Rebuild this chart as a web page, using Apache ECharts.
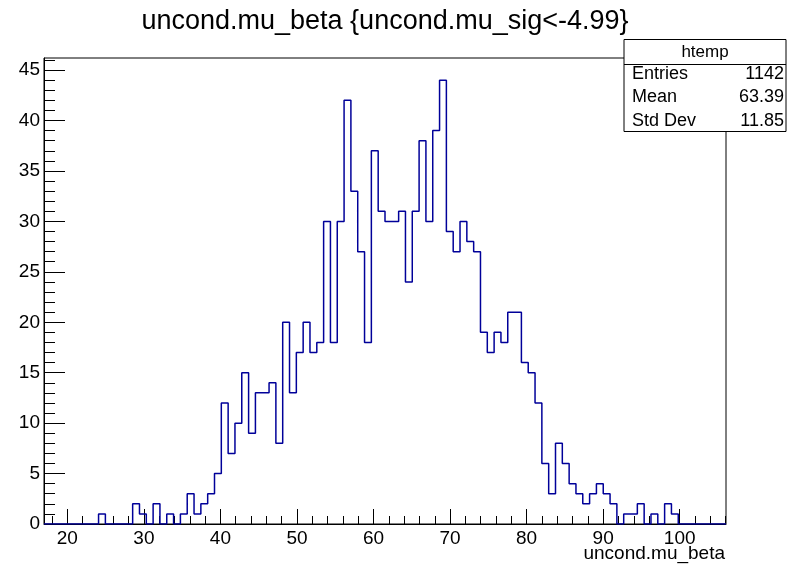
<!DOCTYPE html>
<html><head><meta charset="utf-8">
<script src="https://cdn.jsdelivr.net/npm/echarts@6/dist/echarts.min.js"></script>
<style>html,body{margin:0;padding:0;background:#fff}#c{width:787px;height:568px}</style>
</head><body><div id="c"></div>
<script>
// ---- data ----
const titleText = 'uncond.mu_beta {uncond.mu_sig<-4.99}';
const xTitle = 'uncond.mu_beta';
const xMin = 16.95;
const xMax = 106.05;
const nBins = 100;
const counts = [
  0,0,0,0,0,0,0,0,1,0,
  0,0,0,2,1,0,2,0,1,0,
  1,3,1,2,3,5,12,7,10,15,
  9,13,13,14,8,20,13,17,20,17,
  18,30,18,30,42,33,27,18,37,31,
  30,30,31,24,31,38,30,39,44,29,
  27,30,28,27,19,17,19,18,21,21,
  16,15,12,6,3,8,6,4,3,2,
  3,4,3,2,0,1,1,2,0,1,
  0,2,1,0,0,0,0,0,0,0
];
const yMax = 46.2;
const xMajorTicks = [20,30,40,50,60,70,80,90,100];
const xMinorTicks = [18,20,22,24,26,28,30,32,34,36,38,40,42,44,46,48,50,52,54,56,58,60,62,64,66,68,70,72,74,76,78,80,82,84,86,88,90,92,94,96,98,100,102,104,106];
const yMajorTicks = [0,5,10,15,20,25,30,35,40,45];
const yMinorTicks = [0,1,2,3,4,5,6,7,8,9,10,11,12,13,14,15,16,17,18,19,20,21,22,23,24,25,26,27,28,29,30,31,32,33,34,35,36,37,38,39,40,41,42,43,44,45,46];
const statsName = 'htemp';
const statsLabels = ['Entries','Mean','Std Dev'];
const statsValues = ['1142','63.39','11.85'];

// ---- build step outline from bins ----
const binW = (xMax - xMin) / nBins;
const stepData = counts.map((v, i) => [xMin + i * binW, v]);
stepData.push([xMax, counts[counts.length - 1]]);

const FONT = '"Liberation Sans", Arial, Helvetica, sans-serif';
const chart = echarts.init(document.getElementById('c'), null, {renderer: 'canvas'});

const statsGraphics = [
  {type: 'rect', shape: {x: 624, y: 39.5, width: 162, height: 92}, style: {fill: '#fff', stroke: '#000', lineWidth: 1}, z: 100},
  {type: 'line', shape: {x1: 624, y1: 64.5, x2: 786, y2: 64.5}, style: {stroke: '#000', lineWidth: 1}, z: 101},
  {type: 'text', x: 705, y: 52, style: {text: statsName, font: '17px ' + FONT, fill: '#000', textAlign: 'center', textVerticalAlign: 'middle'}, z: 101}
];
statsLabels.forEach((lab, i) => {
  statsGraphics.push({type: 'text', x: 632, y: 74 + i * 23.3, style: {text: lab, font: '18px ' + FONT, fill: '#000', textAlign: 'left', textVerticalAlign: 'middle'}, z: 101});
  statsGraphics.push({type: 'text', x: 784, y: 74 + i * 23.3, style: {text: statsValues[i], font: '18px ' + FONT, fill: '#000', textAlign: 'right', textVerticalAlign: 'middle'}, z: 101});
});

const option = {
  animation: false,
  backgroundColor: '#fff',
  grid: {left: 44, right: 61, top: 58, bottom: 44, show: true, borderColor: '#000', borderWidth: 1, backgroundColor: 'transparent'},
  xAxis: [
    {type: 'value', min: xMin, max: xMax, position: 'bottom',
     axisLine: {show: true, lineStyle: {color: '#000', width: 1}},
     axisTick: {show: true, inside: true, length: 15, customValues: xMajorTicks, lineStyle: {color: '#000', width: 1}},
     axisLabel: {show: true, customValues: xMajorTicks, fontSize: 19, fontFamily: FONT, color: '#000', margin: 5},
     splitLine: {show: false}},
    {type: 'value', min: xMin, max: xMax, position: 'bottom',
     axisLine: {show: false},
     axisTick: {show: true, inside: true, length: 8, customValues: xMinorTicks, lineStyle: {color: '#000', width: 1}},
     axisLabel: {show: false},
     splitLine: {show: false}}
  ],
  yAxis: [
    {type: 'value', min: 0, max: yMax, position: 'left',
     axisLine: {show: true, lineStyle: {color: '#000', width: 1}},
     axisTick: {show: true, inside: true, length: 21, customValues: yMajorTicks, lineStyle: {color: '#000', width: 1}},
     axisLabel: {show: true, customValues: yMajorTicks, fontSize: 19, fontFamily: FONT, color: '#000', margin: 4},
     splitLine: {show: false}},
    {type: 'value', min: 0, max: yMax, position: 'left',
     axisLine: {show: false},
     axisTick: {show: true, inside: true, length: 11, customValues: yMinorTicks, lineStyle: {color: '#000', width: 1}},
     axisLabel: {show: false},
     splitLine: {show: false}}
  ],
  series: [{
    type: 'line', xAxisIndex: 0, yAxisIndex: 0, step: 'end', data: stepData,
    symbol: 'none', lineStyle: {color: '#000099', width: 1.5}, z: 5
  }],
  graphic: [
    {type: 'text', x: 385, y: 22, style: {text: titleText, font: '27px ' + FONT, fill: '#000', textAlign: 'center', textVerticalAlign: 'middle'}, z: 100},
    {type: 'text', x: 725, y: 554, style: {text: xTitle, font: '19px ' + FONT, fill: '#000', textAlign: 'right', textVerticalAlign: 'middle'}, z: 100}
  ].concat(statsGraphics)
};
chart.setOption(option);
</script>
</body></html>
